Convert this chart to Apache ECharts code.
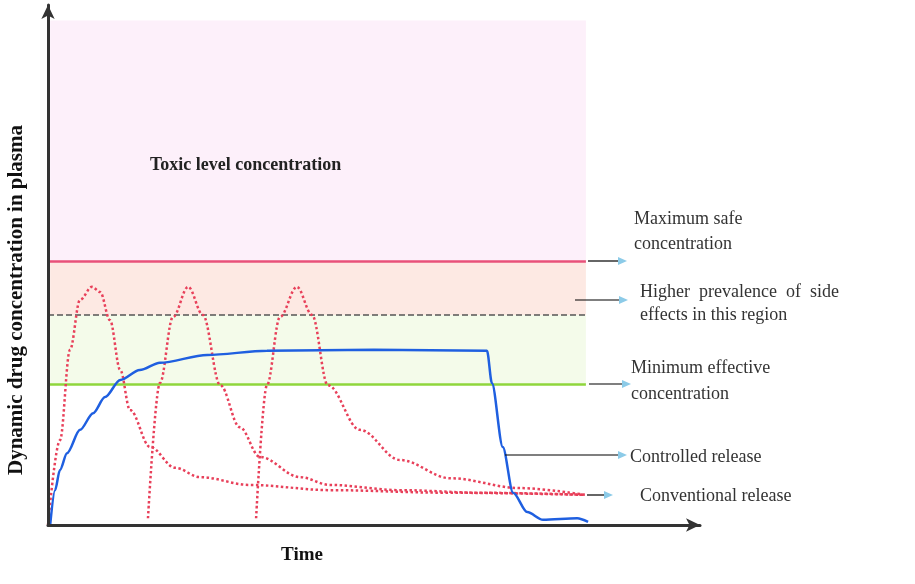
<!DOCTYPE html>
<html><head><meta charset="utf-8">
<script src="https://cdn.jsdelivr.net/npm/echarts@6/dist/echarts.min.js"></script>
<style>html,body{margin:0;padding:0;background:#fff}#c{width:915px;height:584px}</style>
</head><body><div id="c"></div>
<script>
// Levels (concentration units 0..100), time units 0..120
const bandEnd = 99;
const toxicTop = 97;
const maxSafe = 50.8;
const sideEffect = 40.4;
const minEffective = 27.1;

const dose1 = [[0,0],[2.2,16.3],[4.05,33.7],[5.9,43.3],[8.1,45.8],[9.6,44.8],[11.4,39.4],[13.3,29.8],[15.1,22.1],[18.8,15],[23.4,11],[28,9.2],[37.2,7.7],[51.9,6.7],[74,6.2],[98.8,5.8]];
const dose2 = [[18.4,1.3],[20.6,27.3],[23,40],[25.8,45.8],[28.5,40.4],[31.7,26.9],[35.3,18.8],[39,13.1],[46.4,9.2],[51.9,7.7],[64.8,6.7],[80,6.2],[98.8,5.8]];
const dose3 = [[38.3,1.3],[40.3,26.9],[42.7,40],[45.8,45.8],[48.6,40.4],[51.5,26.9],[57.4,18.3],[64.8,12.5],[74,9],[86.9,7.1],[98.8,5.8]];
const controlled = [[0.4,0],[1.3,6.7],[2.2,10.6],[3.5,13.8],[5.9,18.3],[8.3,21.5],[10.5,24.6],[13.3,27.9],[16.9,29.8],[20.6,31.2],[29.3,32.7],[40.3,33.5],[60,33.7],[80.8,33.5],[81.7,27.3],[83.7,15],[85.6,6.2],[88.2,2.5],[91.1,1],[97.4,1.3],[99.4,0.6]];

const serif = '"Liberation Serif","DejaVu Serif",serif';
const chart = echarts.init(document.getElementById('c'));

function hline(y, color, type, w){
  return {type:'line', data:[], silent:true, markLine:{symbol:'none', silent:true, label:{show:false},
    lineStyle:{color:color, type:type, width:w},
    data:[[{coord:[0,y]},{coord:[bandEnd,y]}]]}};
}
function conv(d){
  return {type:'line', data:d, smooth:0.35, smoothMonotone:'x', symbol:'none', z:5,
    lineStyle:{color:'#e8405a', type:'dotted', width:2.5}};
}
function connector(x1,x2,y){
  return [
    {type:'line', z:100, shape:{x1:x1,y1:y,x2:x2,y2:y}, style:{stroke:'#000', lineWidth:1.2}},
    {type:'polygon', z:100, shape:{points:[[x2,y-4],[x2+9,y],[x2,y+4]]}, style:{fill:'#8ccbe8'}}
  ];
}
function txt(x,y,t,extra){
  return {type:'text', z:100, x:x, y:y, style:Object.assign({text:t, fontFamily:serif, fontSize:18, fill:'#333', verticalAlign:'middle'}, extra||{})};
}

chart.setOption({
  animation:false,
  grid:{left:48, right:215, top:5, bottom:59},
  xAxis:{type:'value', min:0, max:120, z:10, axisLine:{lineStyle:{color:'#333', width:3}, symbol:['none','arrow'], symbolSize:[10,14]},
    axisTick:{show:false}, axisLabel:{show:false}, splitLine:{show:false}},
  yAxis:{type:'value', min:0, max:100, z:10, axisLine:{lineStyle:{color:'#333', width:3}, symbol:['none','arrow'], symbolSize:[10,14]},
    axisTick:{show:false}, axisLabel:{show:false}, splitLine:{show:false}},
  series:[
    {type:'line', data:[], silent:true, z:1, markArea:{silent:true, data:[
      [{coord:[0.4,maxSafe], itemStyle:{color:'#fdf0fa'}},{coord:[bandEnd,toxicTop]}],
      [{coord:[0.4,sideEffect], itemStyle:{color:'#fde9e3'}},{coord:[bandEnd,maxSafe]}],
      [{coord:[0.4,minEffective], itemStyle:{color:'#f4fbea'}},{coord:[bandEnd,sideEffect]}]
    ]}},
    hline(maxSafe,'#e8517a','solid',2.5),
    hline(sideEffect,'#555','dashed',1.5),
    hline(minEffective,'#8fd63c','solid',2.5),
    conv(dose1), conv(dose2), conv(dose3),
    {type:'line', data:controlled, smooth:0.3, smoothMonotone:'x', symbol:'none', z:6, lineStyle:{color:'#1f5fe0', width:2.5}}
  ],
  graphic:[].concat(
    connector(588,618,261), connector(575,619,300), connector(589,622,384),
    connector(505,618,455), connector(587,604,495),
    [
      txt(150,165,'Toxic level concentration',{fontWeight:'bold', fill:'#222'}),
      txt(634,219,'Maximum safe'), txt(634,244,'concentration'),
      txt(640,292,'Higher  prevalence  of  side'), txt(640,315,'effects in this region'),
      txt(631,368,'Minimum effective'), txt(631,394,'concentration'),
      txt(630,457,'Controlled release'), txt(640,496,'Conventional release'),
      {type:'text', z:100, x:302, y:555, style:{text:'Time', fontFamily:serif, fontSize:19, fontWeight:'bold', fill:'#111', align:'center', verticalAlign:'middle'}},
      {type:'text', z:100, x:17, y:300, rotation:Math.PI/2, style:{text:'Dynamic drug concentration in plasma', fontFamily:serif, fontSize:21, fontWeight:'bold', fill:'#111', align:'center', verticalAlign:'middle'}}
    ])
});
</script></body></html>
